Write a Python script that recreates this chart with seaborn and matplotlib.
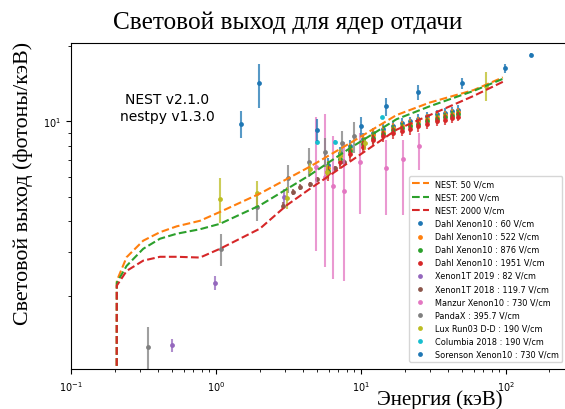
import matplotlib
matplotlib.use("Agg")
import matplotlib.pyplot as plt
import seaborn as sns

# NEST model curves (energy in keV, light yield in photons/keV)
nest_E = [0.2065, 0.207, 0.242, 0.315, 0.411, 0.536, 0.776, 1.066, 2.01, 3.07, 4.45, 8.4, 17.6, 29.9, 60.0, 95.3]
nest_50 = [0.5, 2.30, 2.86, 3.33, 3.60, 3.80, 4.00, 4.34, 5.14, 5.87, 6.59, 8.18, 10.6, 11.9, 13.35, 15.0]
nest_200 = [0.5, 2.26, 2.64, 3.09, 3.39, 3.55, 3.70, 3.89, 4.61, 5.35, 6.10, 7.81, 10.2, 11.5, 13.25, 14.8]
nest_2000 = [0.5, 2.20, 2.52, 2.77, 2.87, 2.87, 2.85, 3.09, 3.72, 4.61, 5.37, 6.90, 9.26, 10.6, 12.65, 14.4]

# Dahl Xenon10
dahl_E = [5.9, 7.16, 8.4, 10.3, 12.1, 14.1, 16.6, 19.2, 21.8, 24.7, 28.4, 33.4, 37.8, 42.2, 46.4]
dahl_60 = [6.7, 7.45, 7.95, 8.5, 9.0, 9.35, 9.6, 9.85, 10.0, 10.25, 10.5, 10.7, 10.85, 11.0, 11.15]
dahl_522 = [6.5, 7.25, 7.75, 8.3, 8.8, 9.1, 9.4, 9.6, 9.75, 10.0, 10.25, 10.45, 10.6, 10.75, 10.9]
dahl_876 = [6.35, 7.1, 7.6, 8.1, 8.6, 8.9, 9.2, 9.4, 9.55, 9.8, 10.05, 10.25, 10.4, 10.55, 10.7]
dahl_1951 = [6.2, 6.9, 7.4, 7.9, 8.4, 8.7, 8.95, 9.15, 9.3, 9.55, 9.8, 10.0, 10.15, 10.3, 10.45]
dahl_err = [0.45, 0.45, 0.45, 0.45, 0.45, 0.45, 0.45, 0.45, 0.45, 0.45, 0.45, 0.45, 0.45, 0.45, 0.45]

# Xenon1T 2019
x1t19_E = [0.50, 0.99, 2.96]
x1t19_LY = [1.27, 2.26, 4.99]
x1t19_err = [0.08, 0.15, 0.35]

# Xenon1T 2018
x1t18_E = [2.9, 3.4, 3.79, 4.45, 4.95, 5.81, 6.63, 7.6]
x1t18_LY = [4.6, 5.2, 5.47, 5.59, 5.86, 6.29, 6.49, 6.9]
x1t18_err = [0.15, 0.15, 0.15, 0.15, 0.15, 0.15, 0.15, 0.15]

# Manzur Xenon10 (asymmetric errors)
manzur_E = [4.90, 5.69, 6.41, 7.64, 9.85, 15.0, 19.4, 25.1]
manzur_LY = [6.59, 6.0, 5.52, 5.27, 6.90, 6.52, 7.05, 7.98]
manzur_lo = [3.55, 3.38, 3.18, 2.98, 2.63, 2.32, 2.85, 1.6]
manzur_hi = [3.81, 4.7, 3.18, 3.03, 2.1, 1.92, 1.39, 1.0]

# PandaX
pandax_E = [0.34, 1.09, 1.91, 3.12, 4.41, 5.69, 7.41, 9.0]
pandax_LY = [1.25, 3.09, 4.54, 5.92, 6.90, 7.56, 8.18, 8.70]
pandax_err = [0.25, 0.46, 0.55, 0.75, 0.9, 1.0, 1.0, 1.2]

# Lux Run03 D-D
lux_E = [1.07, 1.91, 3.1, 4.45, 5.86, 7.2, 10.6, 72.4]
lux_LY = [4.91, 5.18, 4.95, 6.42, 6.29, 7.34, 8.18, 13.9]
lux_err = [1.0, 0.6, 0.5, 0.4, 0.4, 0.4, 0.5, 1.85]

# Columbia 2018
col_E = [4.97, 6.63, 13.9]
col_LY = [8.3, 8.3, 10.4]
col_err = [0.1, 0.1, 0.1]

# Sorenson Xenon10
sor_E = [1.50, 1.99, 4.95, 10.0, 14.8, 24.6, 50.0, 98.4, 148.6]
sor_LY = [9.76, 14.2, 9.26, 9.55, 11.5, 13.1, 14.2, 16.3, 18.4]
sor_err = [1.2, 2.85, 0.95, 0.9, 0.95, 0.95, 0.75, 0.65, 0.3]

pal = sns.color_palette("tab10")

fig = plt.figure(figsize=(5.65, 4.1), dpi=100)
ax = fig.add_axes([71 / 565, 40 / 410, 504 / 565, 326 / 410])
ax.set_xscale("log")
ax.set_yscale("log")

# modelo NEST
for ly, col, lab in [(nest_50, pal[1], "NEST: 50 V/cm"),
                     (nest_200, pal[2], "NEST: 200 V/cm"),
                     (nest_2000, pal[3], "NEST: 2000 V/cm")]:
    sns.lineplot(x=nest_E, y=ly, color=col, linestyle="--", lw=1.5,
                 estimator=None, sort=False, label=lab, ax=ax, zorder=3)

series = [
    (dahl_E, dahl_60, dahl_err, pal[0], "Dahl Xenon10 : 60 V/cm"),
    (dahl_E, dahl_522, dahl_err, pal[1], "Dahl Xenon10 : 522 V/cm"),
    (dahl_E, dahl_876, dahl_err, pal[2], "Dahl Xenon10 : 876 V/cm"),
    (dahl_E, dahl_1951, dahl_err, pal[3], "Dahl Xenon10 : 1951 V/cm"),
    (x1t19_E, x1t19_LY, x1t19_err, pal[4], "Xenon1T 2019 : 82 V/cm"),
    (x1t18_E, x1t18_LY, x1t18_err, pal[5], "Xenon1T 2018 : 119.7 V/cm"),
    (manzur_E, manzur_LY, [manzur_lo, manzur_hi], pal[6], "Manzur Xenon10 : 730 V/cm"),
    (pandax_E, pandax_LY, pandax_err, pal[7], "PandaX : 395.7 V/cm"),
    (lux_E, lux_LY, lux_err, pal[8], "Lux Run03 D-D : 190 V/cm"),
    (col_E, col_LY, col_err, pal[9], "Columbia 2018 : 190 V/cm"),
    (sor_E, sor_LY, sor_err, pal[0], "Sorenson Xenon10 : 730 V/cm"),
]
for E, ly, err, col, lab in series:
    ax.errorbar(E, ly, yerr=err, fmt="none", ecolor=col, elinewidth=1.5, alpha=0.75, zorder=2)
    sns.scatterplot(x=E, y=ly, color=col, s=12, linewidth=0, label=lab, ax=ax, zorder=2)

ax.set_xlim(0.1, 300)
ax.set_ylim(1.02, 20.6)
ax.tick_params(labelsize=7)
ax.legend(loc="upper left", bbox_to_anchor=(409 / 565, 1 - 177 / 410),
          bbox_transform=fig.transFigure, borderaxespad=0, fontsize=5.9)

serif = ["Liberation Serif", "DejaVu Serif"]
fig.text(288 / 565, 1 - 23 / 410, "Световой выход для ядер отдачи", ha="center", va="center",
         fontsize=18.2, family=serif)
fig.text(440 / 565, 10 / 410, "Энергия (кэВ)", ha="center", va="center", fontsize=15, family=serif)
fig.text(23 / 565, 1 - 183 / 410, "Световой выход (фотоны/кэВ)", ha="center", va="center",
         rotation=90, fontsize=15.8, family=serif)
fig.text(167 / 565, 1 - 108.5 / 410, "NEST v2.1.0\nnestpy v1.3.0", ha="center", va="center",
         fontsize=10, multialignment="center")

fig.savefig("out.png", dpi=100)
